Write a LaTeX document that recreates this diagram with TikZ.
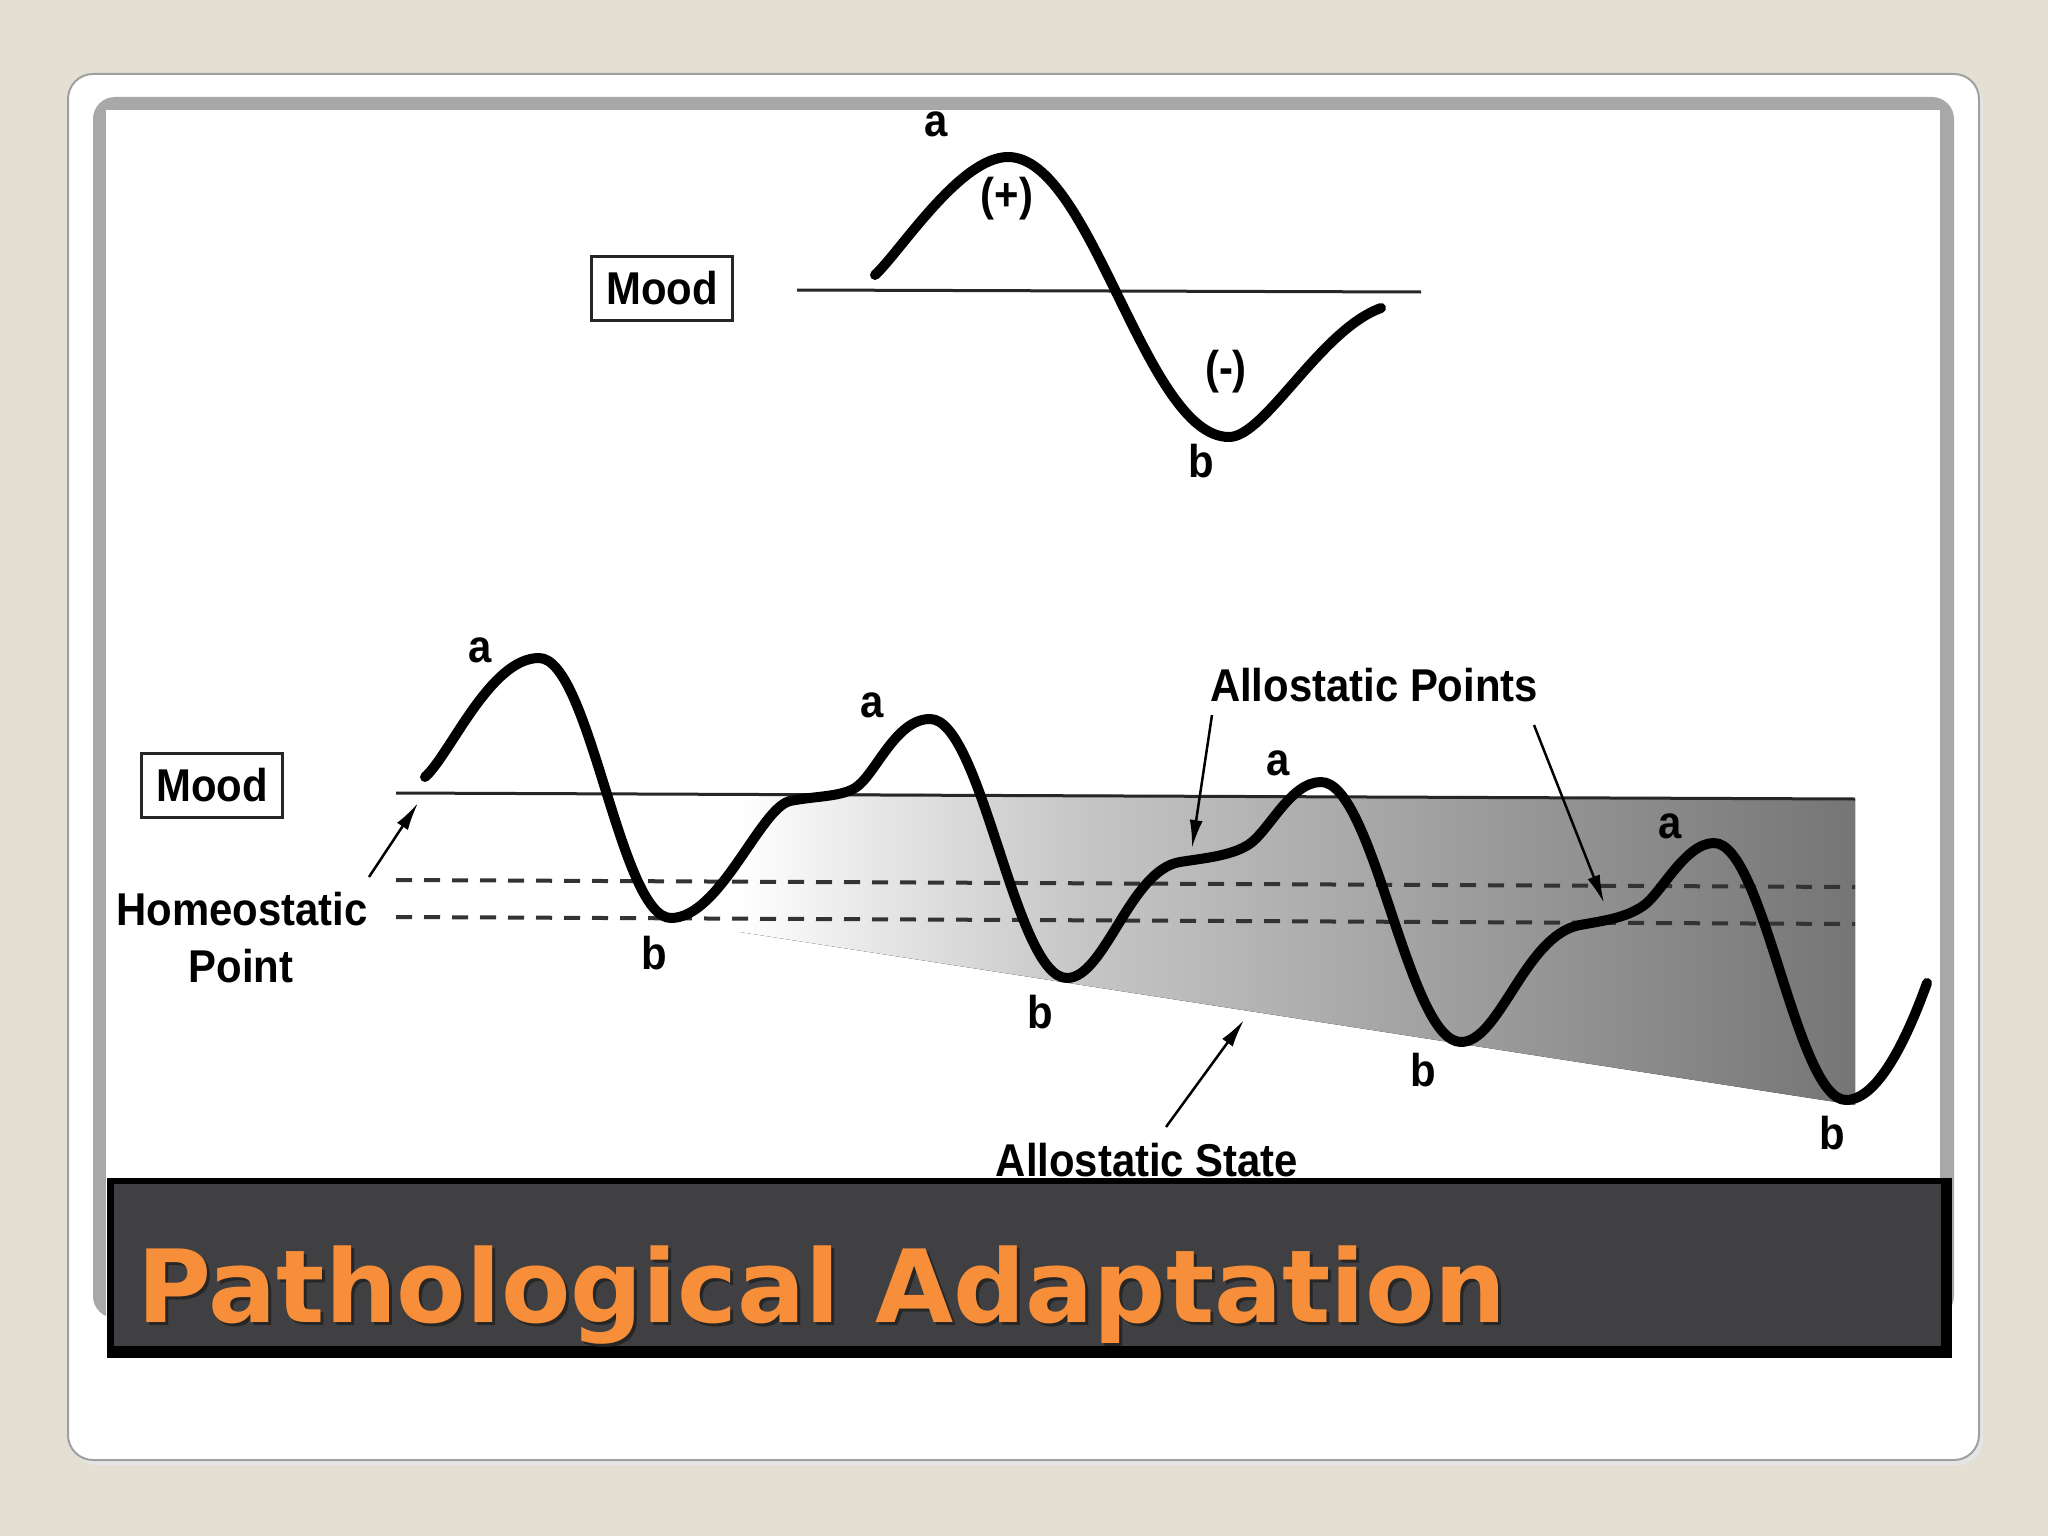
\documentclass[tikz,border=0pt]{standalone}
\usepackage{fontspec}
\setmainfont{Liberation Sans}
\newfontfamily\diagfont[FakeStretch=0.91]{Liberation Sans}
\newfontfamily\titlefont{DejaVu Sans}
\usetikzlibrary{arrows.meta}
\definecolor{beige}{RGB}{227,223,211}
\definecolor{cardedge}{RGB}{160,160,160}
\definecolor{framegray}{RGB}{168,168,168}
\definecolor{titlegray}{RGB}{64,63,65}
\definecolor{titleorange}{RGB}{246,142,58}
\pgfdeclarehorizontalshading{allo}{100bp}{color(0bp)=(white); color(25bp)=(white); color(30bp)=(white!92!black); color(40bp)=(black!22); color(55bp)=(black!36); color(75bp)=(black!54); color(100bp)=(black!54)}
\tikzset{
  lbl/.style={font=\diagfont\bfseries\fontsize{46}{50}\selectfont, inner sep=0pt, text=black},
  moodbox/.style={lbl, draw=black!85, line width=3pt, minimum width=141pt, minimum height=64pt},
  wave/.style={line width=10pt, line cap=round, line join=round},
  refline/.style={line width=3pt, black!85},
  dashline/.style={line width=4pt, dash pattern=on 16pt off 12pt, black!80},
  pointer/.style={line width=2.5pt, -{Latex[length=28pt, width=13pt]}},
}
\begin{document}
\begin{tikzpicture}[x=1pt, y=-1pt]
\useasboundingbox (0,0) rectangle (2048,1536);
% slide background
\fill[beige] (0,0) rectangle (2048,1536);
\fill[black!10, rounded corners=25pt] (71,78) rectangle (1983,1465);
\filldraw[fill=white, draw=cardedge, line width=2pt, rounded corners=25pt] (68,74) rectangle (1979,1460);
% picture frame
\fill[framegray, rounded corners=22pt] (93,97) rectangle (1954,1318);
\fill[white] (106,110) rectangle (1940,1318);

% ---------- top diagram ----------
\node[moodbox] (mood1) at (662,288) {Mood};
\coordinate (l1a) at (797,290);
\coordinate (l1b) at (1421,292);
\draw[refline] (l1a) -- (l1b);
\draw[wave] (875,275) .. controls (900,252) and (960,157) .. (1008,157)
  .. controls (1092,157) and (1145,437) .. (1229,437)
  .. controls (1265,437) and (1320,330) .. (1381,308);
\node[lbl] (ta) at (936,124) {a};
\node[lbl] (tplus) at (1007,199) {(+)};
\node[lbl] (tminus) at (1226,372) {(-)};
\node[lbl] (tb) at (1201,461) {b};

% ---------- bottom diagram ----------
\fill[shading=allo] (740,793) -- (1855,799) -- (1855,1105) -- (740,932) -- cycle;
\node[moodbox] (mood2) at (212,785) {Mood};
\coordinate (l2a) at (396,793);
\coordinate (l2b) at (1855,799);
\draw[refline] (l2a) -- (l2b);
\coordinate (d1a) at (396,880);
\coordinate (d1b) at (1855,887);
\coordinate (d2a) at (396,917);
\coordinate (d2b) at (1855,924);
\draw[dashline] (d1a) -- (d1b);
\draw[dashline] (d2a) -- (d2b);

\draw[wave] (425,777)
  .. controls (450,755) and (490,658) .. (539,658)
  .. controls (590,658) and (620,918) .. (671,918)
  .. controls (720,918) and (760,808) .. (790,801)
  .. controls (815,796) and (840,797) .. (855,788)
  .. controls (875,776) and (895,719) .. (930,719)
  .. controls (982,719) and (1015,978) .. (1067,978)
  .. controls (1105,978) and (1130,870) .. (1180,862)
  .. controls (1205,858) and (1230,856) .. (1248,845)
  .. controls (1268,833) and (1290,782) .. (1321,782)
  .. controls (1374,782) and (1408,1042) .. (1461,1042)
  .. controls (1500,1042) and (1525,935) .. (1580,925)
  .. controls (1605,920.5) and (1625,918) .. (1643,906)
  .. controls (1661,894) and (1685,843) .. (1714,843)
  .. controls (1764,843) and (1796,1100) .. (1846,1100)
  .. controls (1880,1100) and (1910,1030) .. (1927,983);

\node[lbl] (a1) at (480,650) {a};
\node[lbl] (b1) at (654,953) {b};
\node[lbl] (a2) at (872,705) {a};
\node[lbl] (b2) at (1040,1012) {b};
\node[lbl] (a3) at (1278,763) {a};
\node[lbl] (b3) at (1423,1070) {b};
\node[lbl] (a4) at (1670,826) {a};
\node[lbl] (b4) at (1832,1133) {b};

\node[lbl, anchor=base] (homeo) at (242,925) {Homeostatic};
\node[lbl, anchor=base] (point) at (241,982) {Point};
\coordinate (hpTail) at (369,877);
\coordinate (hpTip) at (418,803);
\draw[pointer] (hpTail) -- (hpTip);

\node[lbl, anchor=base] (apts) at (1374,701) {Allostatic Points};
\coordinate (ap1Tail) at (1212,715);
\coordinate (ap1Tip) at (1192,848);
\coordinate (ap2Tail) at (1534,725);
\coordinate (ap2Tip) at (1604,903);
\draw[pointer] (ap1Tail) -- (ap1Tip);
\draw[pointer] (ap2Tail) -- (ap2Tip);

\node[lbl, anchor=base] (astate) at (1147,1176) {Allostatic State};
\coordinate (asTail) at (1166,1127);
\coordinate (asTip) at (1244,1020);
\draw[pointer] (asTail) -- (asTip);

% ---------- title bar ----------
\fill[black] (107,1178) rectangle (1952,1358);
\fill[titlegray] (114,1184) rectangle (1941,1346);
\node[anchor=base west, inner sep=0pt, font=\titlefont\bfseries\fontsize{101}{110}\selectfont, text=black!85] at (140,1325) {Pathological Adaptation};
\node[anchor=base west, inner sep=0pt, font=\titlefont\bfseries\fontsize{101}{110}\selectfont, text=titleorange] (title) at (137,1322) {Pathological Adaptation};
\end{tikzpicture}
\end{document}
